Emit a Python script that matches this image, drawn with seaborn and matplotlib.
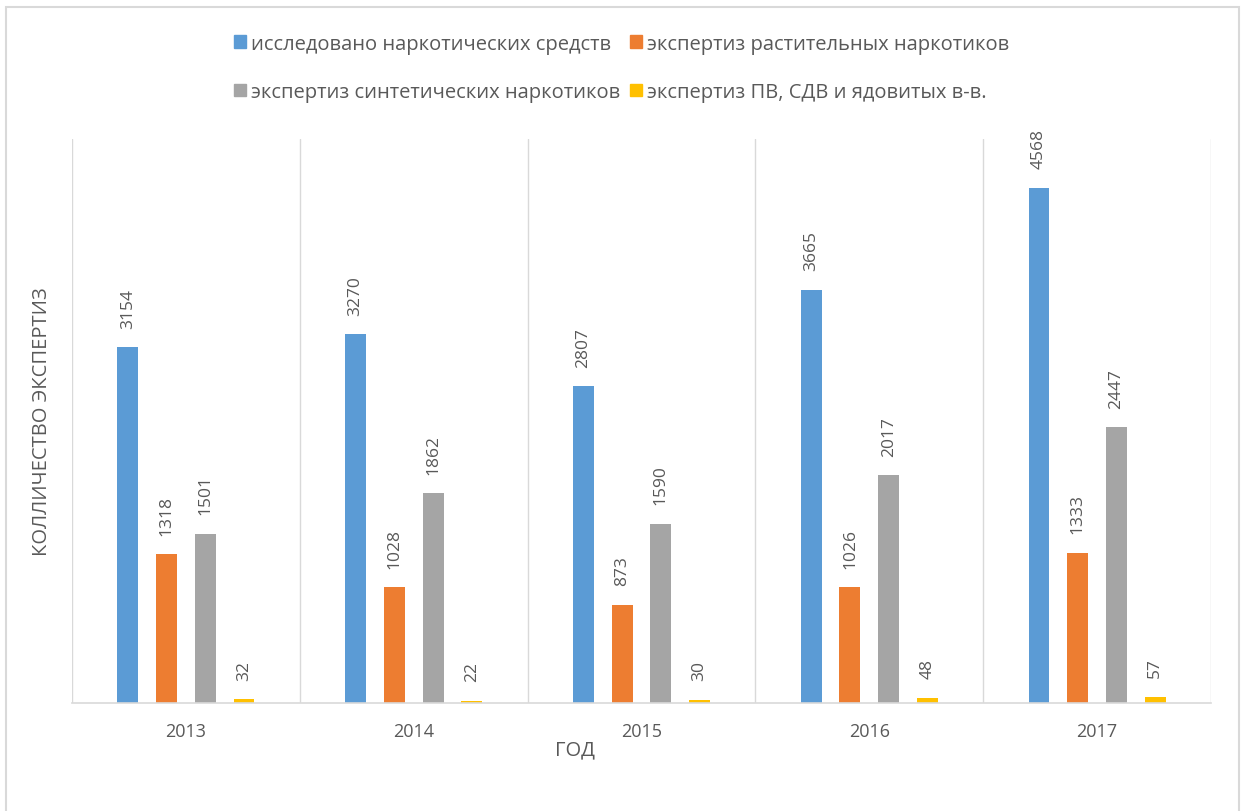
import matplotlib
matplotlib.use("Agg")
import matplotlib.pyplot as plt
import seaborn as sns
import pandas as pd
from matplotlib.patches import Rectangle

years = ["2013", "2014", "2015", "2016", "2017"]
series_names = [
    "исследовано наркотических средств",
    "экспертиз растительных наркотиков",
    "экспертиз синтетических наркотиков",
    "экспертиз ПВ, СДВ и ядовитых в-в.",
]
s_total = [3154, 3270, 2807, 3665, 4568]
s_plant = [1318, 1028, 873, 1026, 1333]
s_synth = [1501, 1862, 1590, 2017, 2447]
s_poison = [32, 22, 30, 48, 57]
colors = ["#5B9BD5", "#ED7D31", "#A5A5A5", "#FFC000"]

rows = []
for name, vals in zip(series_names, [s_total, s_plant, s_synth, s_poison]):
    for y, v in zip(years, vals):
        rows.append({"year": y, "series": name, "value": v})
df = pd.DataFrame(rows)

sns.set_style("white")
plt.rcParams["font.family"] = ["Open Sans", "DejaVu Sans"]

fig = plt.figure(figsize=(12.43, 8.12), dpi=100)
ax = fig.add_axes([72/1243, (812-704)/812, (1211-72)/1243, (704-140)/812])

sns.barplot(data=df, x="year", y="value", hue="series", hue_order=series_names,
            order=years, palette=colors, width=0.68, gap=0.46, ax=ax,
            errorbar=None, saturation=1, linewidth=0)

for c in ax.containers:
    ax.bar_label(c, labels=[f"{int(v)}" for v in c.datavalues], rotation=90,
                 padding=14, color="#595959", fontsize=12.5)

ax.set_ylim(0, 5000)
ax.set_xlim(-0.5, 4.5)
ax.set_yticks([])
for xv in [-0.5, 0.5, 1.5, 2.5, 3.5, 4.5]:
    ax.axvline(xv, color="#D9D9D9", lw=1, zorder=0)
for s in ["top", "left", "right"]:
    ax.spines[s].set_visible(False)
ax.spines["bottom"].set_color("#D9D9D9")
ax.spines["bottom"].set_linewidth(1.2)
ax.tick_params(axis="x", length=0, pad=14, labelsize=13, labelcolor="#595959")
ax.set_xlabel("")
ax.set_ylabel("")

fig.text(575/1243, 1 - 750/812, "ГОД", ha="center", va="center", fontsize=14.5, color="#595959")
fig.text(42/1243, 1 - 422/812, "КОЛЛИЧЕСТВО ЭКСПЕРТИЗ", ha="center", va="center",
         rotation=90, fontsize=14.5, color="#595959")

ax.legend_.remove()
handles = [Rectangle((0, 0), 1, 1, color=c) for c in colors]
order = [0, 2, 1, 3]
fig.legend([handles[i] for i in order], [series_names[i] for i in order],
           loc="center", bbox_to_anchor=(0.5, 1 - 69/812),
           ncol=2, frameon=False, fontsize=14.5, labelcolor="#595959",
           handlelength=0.6, handleheight=0.6, handletextpad=0.25,
           columnspacing=0.5, labelspacing=1.4)

fig.add_artist(Rectangle((6/1243, -0.02), (1239-6)/1243, 804/812 + 0.02,
                         transform=fig.transFigure, fill=False, edgecolor="#D9D9D9", lw=1.5))

fig.savefig("out.png", dpi=100)
